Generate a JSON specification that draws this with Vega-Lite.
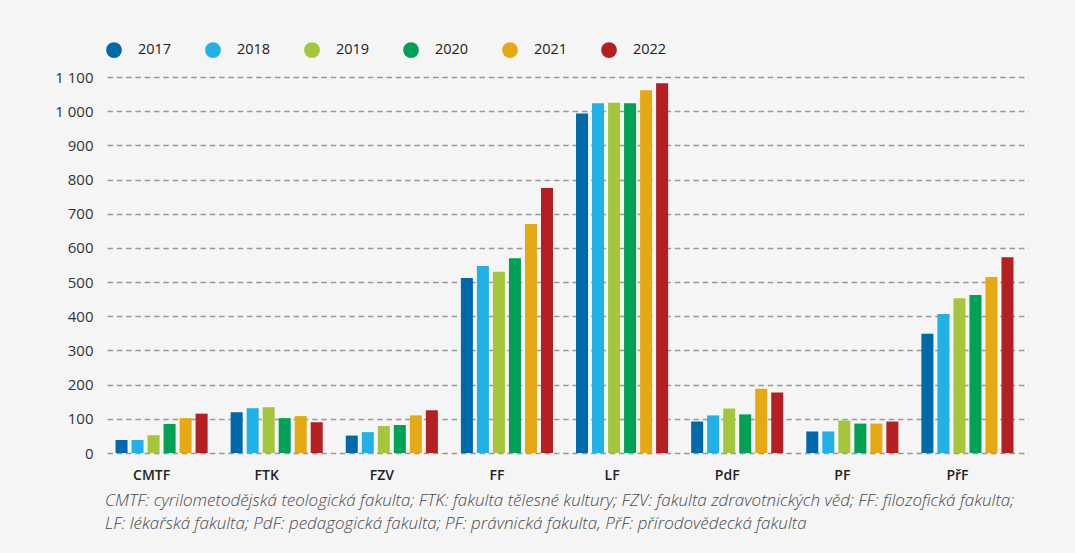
{
  "$schema": "https://vega.github.io/schema/vega-lite/v6.json",
  "width": 921,
  "height": 376,
  "autosize": {"type": "none"},
  "padding": {"left": 107, "top": 77, "right": 47, "bottom": 100},
  "background": "#f5f5f5",
  "title": {
    "text": ["CMTF: cyrilometodějská teologická fakulta; FTK: fakulta tělesné kultury; FZV: fakulta zdravotnických věd; FF: filozofická fakulta;", "LF: lékařská fakulta; PdF: pedagogická fakulta; PF: právnická fakulta, PřF: přírodovědecká fakulta"],
    "orient": "bottom",
    "anchor": "start",
    "frame": "group",
    "dx": -2,
    "offset": 11,
    "font": "Open Sans",
    "fontSize": 17,
    "fontStyle": "italic",
    "fontWeight": 300,
    "color": "#4a4a4a",
    "lineHeight": 23
  },
  "data": {
    "values": [
      {"fakulta": "CMTF", "rok": "2017", "pocet": 38},
      {"fakulta": "CMTF", "rok": "2018", "pocet": 38},
      {"fakulta": "CMTF", "rok": "2019", "pocet": 52},
      {"fakulta": "CMTF", "rok": "2020", "pocet": 85},
      {"fakulta": "CMTF", "rok": "2021", "pocet": 102},
      {"fakulta": "CMTF", "rok": "2022", "pocet": 115},
      {"fakulta": "FTK", "rok": "2017", "pocet": 119},
      {"fakulta": "FTK", "rok": "2018", "pocet": 131},
      {"fakulta": "FTK", "rok": "2019", "pocet": 134},
      {"fakulta": "FTK", "rok": "2020", "pocet": 102},
      {"fakulta": "FTK", "rok": "2021", "pocet": 108},
      {"fakulta": "FTK", "rok": "2022", "pocet": 90},
      {"fakulta": "FZV", "rok": "2017", "pocet": 51},
      {"fakulta": "FZV", "rok": "2018", "pocet": 61},
      {"fakulta": "FZV", "rok": "2019", "pocet": 79},
      {"fakulta": "FZV", "rok": "2020", "pocet": 82},
      {"fakulta": "FZV", "rok": "2021", "pocet": 110},
      {"fakulta": "FZV", "rok": "2022", "pocet": 125},
      {"fakulta": "FF", "rok": "2017", "pocet": 512},
      {"fakulta": "FF", "rok": "2018", "pocet": 547},
      {"fakulta": "FF", "rok": "2019", "pocet": 530},
      {"fakulta": "FF", "rok": "2020", "pocet": 570},
      {"fakulta": "FF", "rok": "2021", "pocet": 670},
      {"fakulta": "FF", "rok": "2022", "pocet": 775},
      {"fakulta": "LF", "rok": "2017", "pocet": 993},
      {"fakulta": "LF", "rok": "2018", "pocet": 1023},
      {"fakulta": "LF", "rok": "2019", "pocet": 1025},
      {"fakulta": "LF", "rok": "2020", "pocet": 1023},
      {"fakulta": "LF", "rok": "2021", "pocet": 1061},
      {"fakulta": "LF", "rok": "2022", "pocet": 1082},
      {"fakulta": "PdF", "rok": "2017", "pocet": 92},
      {"fakulta": "PdF", "rok": "2018", "pocet": 110},
      {"fakulta": "PdF", "rok": "2019", "pocet": 130},
      {"fakulta": "PdF", "rok": "2020", "pocet": 113},
      {"fakulta": "PdF", "rok": "2021", "pocet": 188},
      {"fakulta": "PdF", "rok": "2022", "pocet": 177},
      {"fakulta": "PF", "rok": "2017", "pocet": 63},
      {"fakulta": "PF", "rok": "2018", "pocet": 63},
      {"fakulta": "PF", "rok": "2019", "pocet": 95},
      {"fakulta": "PF", "rok": "2020", "pocet": 86},
      {"fakulta": "PF", "rok": "2021", "pocet": 86},
      {"fakulta": "PF", "rok": "2022", "pocet": 92},
      {"fakulta": "PřF", "rok": "2017", "pocet": 349},
      {"fakulta": "PřF", "rok": "2018", "pocet": 407},
      {"fakulta": "PřF", "rok": "2019", "pocet": 453},
      {"fakulta": "PřF", "rok": "2020", "pocet": 462},
      {"fakulta": "PřF", "rok": "2021", "pocet": 515},
      {"fakulta": "PřF", "rok": "2022", "pocet": 573}
    ]
  },
  "mark": {"type": "bar"},
  "encoding": {
    "x": {
      "field": "fakulta",
      "type": "nominal",
      "sort": ["CMTF", "FTK", "FZV", "FF", "LF", "PdF", "PF", "PřF"],
      "scale": {"paddingInner": 0.2, "paddingOuter": 0.1, "align": 0.37},
      "axis": {
        "title": null,
        "domain": false,
        "ticks": false,
        "tickSize": 0,
        "labelAngle": 0,
        "labelPadding": 15,
        "labelOffset": -10,
        "labelFont": "Open Sans",
        "labelFontSize": 14,
        "labelFontWeight": 600,
        "labelColor": "#222222"
      }
    },
    "xOffset": {
      "field": "rok",
      "type": "nominal",
      "scale": {"paddingInner": 0.25, "paddingOuter": 0}
    },
    "y": {
      "field": "pocet",
      "type": "quantitative",
      "scale": {"domain": [0, 1100], "nice": false},
      "axis": {
        "title": null,
        "values": [0, 100, 200, 300, 400, 500, 600, 700, 800, 900, 1000, 1100],
        "labelExpr": "replace(format(datum.value, ','), ',', ' ')",
        "domain": false,
        "ticks": false,
        "tickSize": 0,
        "labelPadding": 14,
        "labelFont": "Open Sans",
        "labelFontSize": 15,
        "labelColor": "#333333",
        "grid": true,
        "gridColor": "#999999",
        "gridWidth": 1.4,
        "gridDash": [5.5, 3.8]
      }
    },
    "color": {
      "field": "rok",
      "type": "nominal",
      "scale": {
        "domain": ["2017", "2018", "2019", "2020", "2021", "2022"],
        "range": ["#0069aa", "#21b1e4", "#a5c63c", "#00a157", "#e5aa13", "#b41f22"]
      },
      "legend": {
        "title": null,
        "orient": "none",
        "legendX": -1,
        "legendY": -35,
        "direction": "horizontal",
        "symbolType": "circle",
        "symbolSize": 250,
        "symbolStrokeWidth": 0,
        "symbolOpacity": 1,
        "labelOffset": 16,
        "columnPadding": 33,
        "labelFont": "Open Sans",
        "labelFontSize": 14.5,
        "labelFontWeight": 500,
        "labelColor": "#222222"
      }
    }
  },
  "config": {
    "view": {"stroke": null}
  }
}
